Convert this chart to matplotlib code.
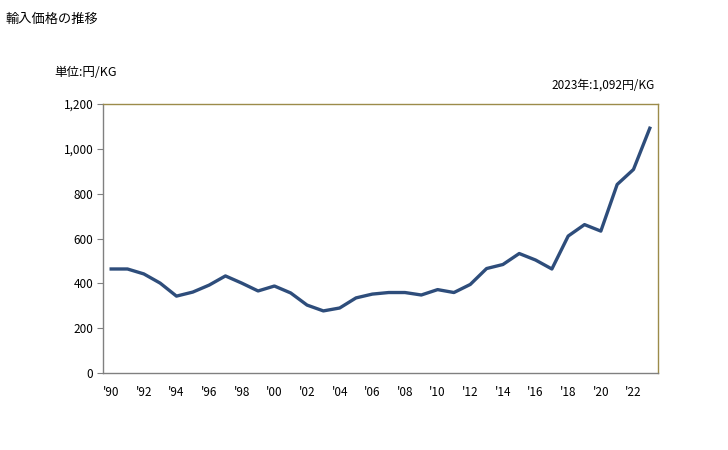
import matplotlib as mpl
mpl.use('Agg')
import matplotlib.pyplot as plt
from matplotlib.ticker import FuncFormatter

plt.rcParams['font.family'] = ['Noto Sans CJK JP', 'DejaVu Sans']

years = list(range(1990, 2024))
prices = [464, 464, 442, 401, 343, 361, 392, 433, 401, 366,
          388, 357, 303, 277, 290, 335, 352, 359, 359, 348,
          372, 359, 395, 466, 484, 533, 504, 464, 611, 662,
          633, 841, 908, 1092]
yticks = [0, 200, 400, 600, 800, 1000, 1200]
xticks = list(range(1990, 2024, 2))


def main():
    fig = plt.figure(figsize=(7.28, 4.5), dpi=100)
    ax = fig.add_axes([0.1415, 0.1711, 0.7623, 0.5978])

    ax.plot(years, prices, color='#2E4D7B', lw=2.4, solid_joinstyle='round')

    ax.set_xlim(1989.5, 2023.5)
    ax.set_ylim(0, 1200)
    ax.set_yticks(yticks)
    ax.yaxis.set_major_formatter(FuncFormatter(lambda v, p: f'{int(v):,}'))
    ax.set_xticks(xticks)
    ax.set_xticklabels([f"'{y % 100:02d}" for y in xticks])

    for s in ['left', 'bottom']:
        ax.spines[s].set_color('#808080')
    for s in ['top', 'right']:
        ax.spines[s].set_color('#9C8B4A')
    for s in ax.spines.values():
        s.set_linewidth(1.0)

    ax.tick_params(axis='y', length=4, color='#808080', labelsize=8.5, pad=3)
    ax.tick_params(axis='x', length=0, labelsize=8.5, pad=9)

    fig.text(0.007, 0.972, '輸入価格の推移', fontsize=9.5, va='top', ha='left')
    fig.text(0.075, 0.838, '単位:円/KG', fontsize=9, va='center', ha='left')
    fig.text(0.9, 0.811, '2023年:1,092円/KG', fontsize=8.5, va='center', ha='right')

    fig.savefig('out.png', dpi=100)


if __name__ == '__main__':
    main()
